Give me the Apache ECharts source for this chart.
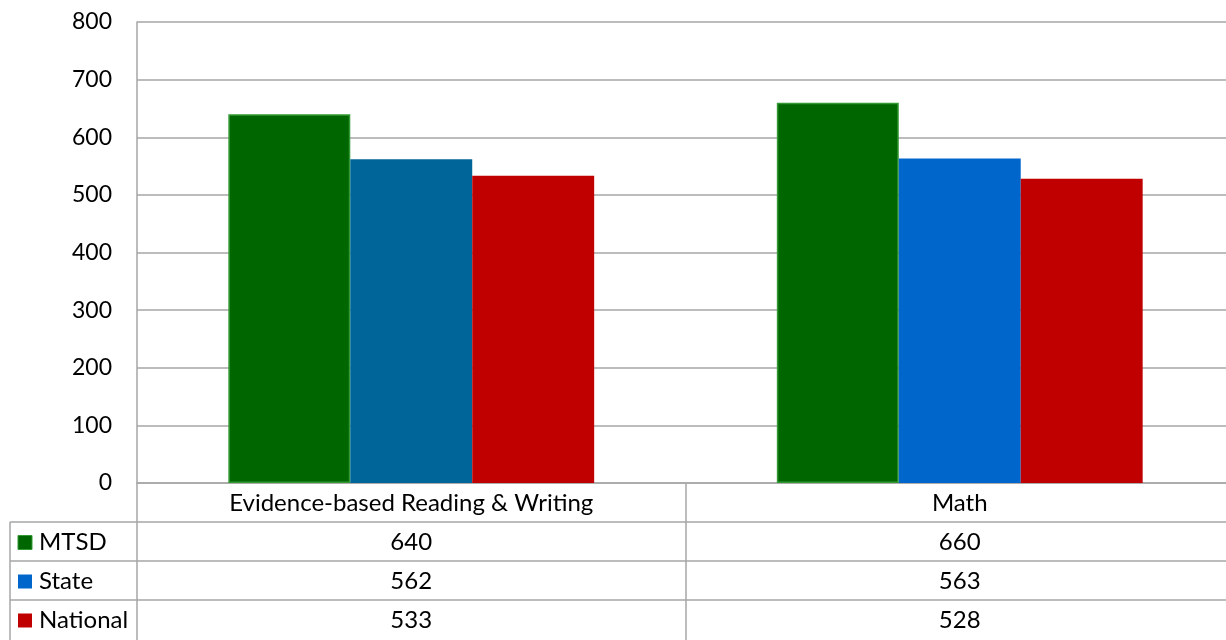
<!DOCTYPE html>
<html>
<head>
<meta charset="utf-8">
<script src="https://cdn.jsdelivr.net/npm/echarts@6/dist/echarts.min.js"></script>
<style>
html,body{margin:0;padding:0;background:#fff;}
#main{width:1226px;height:640px;}
</style>
</head>
<body>
<div id="main"></div>
<script>
const categories = ['Evidence-based Reading & Writing', 'Math'];
const seriesNames = ['MTSD', 'State', 'National'];
const mtsd = [640, 660];
const state = [562, 563];
const national = [533, 528];
const yTicks = [0, 100, 200, 300, 400, 500, 600, 700, 800];

const GREEN = '#006600', GREEN_BORDER = '#339933';
const STATE_COLORS = ['#006699', '#0066CC'];
const STATE_LEGEND = '#0066CC';
const RED = '#C00000';
const GRID_COLOR = '#a6a6a6';
const FONT = 'Lato, "Open Sans", sans-serif';

const chart = echarts.init(document.getElementById('main'), null, {renderer: 'canvas'});

const option = {
  animation: false,
  backgroundColor: '#fff',
  grid: {left: 137, top: 22, width: 1097, height: 461, containLabel: false, outerBoundsMode: 'none'},
  xAxis: {
    type: 'category',
    data: categories,
    axisLine: {show: true, lineStyle: {color: GRID_COLOR, width: 1.5}},
    axisTick: {show: true, length: 157, interval: 0, lineStyle: {color: GRID_COLOR, width: 1.5}},
    axisLabel: {fontFamily: FONT, fontSize: 24, color: '#000', margin: 8, interval: 0}
  },
  yAxis: {
    type: 'value',
    min: yTicks[0], max: yTicks[yTicks.length - 1], interval: 100,
    axisLine: {show: true, lineStyle: {color: GRID_COLOR, width: 1.5}},
    axisTick: {show: false},
    splitLine: {show: true, lineStyle: {color: GRID_COLOR, width: 1.5}},
    axisLabel: {fontFamily: FONT, fontSize: 23, color: '#000', margin: 25}
  },
  series: [
    {name: seriesNames[0], type: 'bar', barGap: 0, barCategoryGap: '33.3%',
     data: mtsd, itemStyle: {color: GREEN, borderColor: GREEN_BORDER, borderWidth: 1.5}},
    {name: seriesNames[1], type: 'bar', barGap: 0, barCategoryGap: '33.3%',
     data: state.map((v, i) => ({value: v, itemStyle: {color: STATE_COLORS[i]}}))},
    {name: seriesNames[2], type: 'bar', barGap: 0, barCategoryGap: '33.3%',
     data: national, itemStyle: {color: RED}}
  ]
};
chart.setOption(option);

// Data table below the axis
const rows = [mtsd, state, national];
const legendColors = [GREEN, STATE_LEGEND, RED];
const rowTop = 522, rowH = 39, tableLeft = 10, tableRight = 1226;
const g = [];
for (let r = 0; r < 3; r++) {
  const y = rowTop + r * rowH;
  g.push({type: 'line', shape: {x1: tableLeft, y1: y, x2: tableRight, y2: y},
          style: {stroke: GRID_COLOR, lineWidth: 1.5}, z: 10});
  const cy = y + rowH / 2 + 1;
  g.push({type: 'rect', shape: {x: 18, y: cy - 7, width: 14, height: 14},
          style: {fill: legendColors[r], stroke: r === 0 ? GREEN_BORDER : null, lineWidth: 1}, z: 10});
  g.push({type: 'text', x: 39, y: cy, style: {text: seriesNames[r], fontFamily: FONT, fontSize: 24,
          fill: '#000', textAlign: 'left', textVerticalAlign: 'middle'}, z: 10});
  rows[r].forEach((v, i) => {
    const cx = chart.convertToPixel({xAxisIndex: 0}, categories[i]);
    g.push({type: 'text', x: cx, y: cy, style: {text: String(v), fontFamily: FONT, fontSize: 24,
            fill: '#000', textAlign: 'center', textVerticalAlign: 'middle'}, z: 10});
  });
}
g.push({type: 'line', shape: {x1: tableLeft, y1: rowTop, x2: tableLeft, y2: 640},
        style: {stroke: GRID_COLOR, lineWidth: 1.5}, z: 10});
chart.setOption({graphic: g});
</script>
</body>
</html>
